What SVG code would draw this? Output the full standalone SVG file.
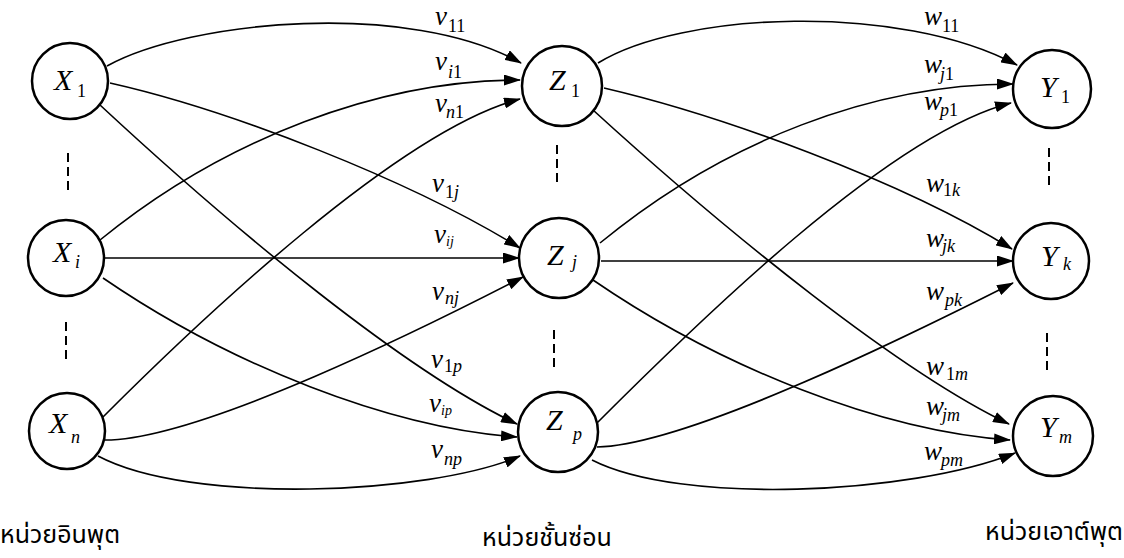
<svg xmlns="http://www.w3.org/2000/svg" width="1124" height="558" viewBox="0 0 1124 558">
<style>
.node{fill:#fff;stroke:#000;stroke-width:2.5}
.edge{fill:none;stroke:#000;stroke-width:1.6;marker-end:url(#arr)}
.dash{stroke:#000;stroke-width:2;stroke-dasharray:9,5}
.lbl{font-family:"Liberation Serif","Times New Roman",serif;font-style:italic;fill:#000}
.nl{font-size:30px}
.wl{font-size:27px}
.sub{font-size:18px}
.ss{font-size:14px}
.up{font-style:normal}
.th{font-family:"Noto Sans Thai","Noto Sans","DejaVu Sans",sans-serif;font-size:25px;fill:#000}
</style>
<defs>
<marker id="arr" markerUnits="userSpaceOnUse" markerWidth="17" markerHeight="11" viewBox="0 0 17 11" refX="16" refY="5.5" orient="auto">
<path d="M0,0 L17,5.5 L0,11 z" fill="#000"/>
</marker>
</defs>
<g id="connectors">
<path class="edge" d="M107,66 C190,20 410,0 521,63"/>
<path class="edge" d="M110,83 C230,110 410,180 520,248"/>
<path class="edge" d="M100,105 C240,235 407,372 517,424"/>
<path class="edge" d="M100,240 C225,138 380,80 520,80"/>
<path class="edge" d="M104,258 L519,258"/>
<path class="edge" d="M103,278 C230,365 390,428 517,437"/>
<path class="edge" d="M103,417 C200,320 400,130 520,99"/>
<path class="edge" d="M105,440 C200,440 430,325 523,277"/>
<path class="edge" d="M98,456 C190,505 430,495 520,456"/>
<path class="edge" d="M598,63 C680,12 900,2 1017,65"/>
<path class="edge" d="M604,88 C720,115 900,180 1012,249"/>
<path class="edge" d="M593,110 C730,235 900,372 1009,424"/>
<path class="edge" d="M600,243 C725,140 875,84 1013,84"/>
<path class="edge" d="M601,261 L1013,261"/>
<path class="edge" d="M593,280 C720,367 880,431 1010,440"/>
<path class="edge" d="M597,423 C695,325 890,133 1011,103"/>
<path class="edge" d="M597,447 C690,445 920,330 1013,283"/>
<path class="edge" d="M592,460 C680,505 910,495 1015,453"/>
</g>
<g id="dashes">
<line class="dash" x1="68" y1="153" x2="68" y2="192"/>
<line class="dash" x1="66" y1="322" x2="66" y2="360"/>
<line class="dash" x1="557" y1="145" x2="557" y2="185"/>
<line class="dash" x1="554" y1="330" x2="554" y2="368"/>
<line class="dash" x1="1049" y1="148" x2="1049" y2="186"/>
<line class="dash" x1="1047" y1="333" x2="1047" y2="372"/>
</g>
<g id="X1"><circle class="node" cx="70" cy="81" r="38"/><text class="lbl nl" x="54" y="90">X</text><text class="lbl sub up" x="77" y="97">1</text></g>
<g id="Xi"><circle class="node" cx="66" cy="258" r="38"/><text class="lbl nl" x="53" y="262">X</text><text class="lbl sub" x="75" y="268">i</text></g>
<g id="Xn"><circle class="node" cx="67" cy="431" r="38"/><text class="lbl nl" x="49" y="433">X</text><text class="lbl sub" x="71" y="443">n</text></g>
<g id="Z1"><circle class="node" cx="562" cy="86" r="40"/><text class="lbl nl" x="549" y="90">Z</text><text class="lbl sub up" x="571" y="97">1</text></g>
<g id="Zj"><circle class="node" cx="559" cy="258" r="40"/><text class="lbl nl" x="547" y="265">Z</text><text class="lbl sub" x="572" y="268">j</text></g>
<g id="Zp"><circle class="node" cx="558" cy="432" r="40"/><text class="lbl nl" x="546" y="430">Z</text><text class="lbl sub" x="573" y="440">p</text></g>
<g id="Y1"><circle class="node" cx="1052" cy="89" r="39"/><text class="lbl nl" x="1040" y="97">Y</text><text class="lbl sub up" x="1061" y="103">1</text></g>
<g id="Yk"><circle class="node" cx="1051" cy="261" r="38"/><text class="lbl nl" x="1041" y="266">Y</text><text class="lbl sub" x="1063" y="270">k</text></g>
<g id="Ym"><circle class="node" cx="1053" cy="436" r="40"/><text class="lbl nl" x="1040" y="437">Y</text><text class="lbl sub" x="1059" y="443">m</text></g>
<g id="weights" class="lbl">
<text class="wl" x="435" y="25">v</text><text class="sub up" x="448" y="32">11</text>
<text class="wl" x="435" y="70">v</text><text class="sub" x="448" y="78">i<tspan class="up">1</tspan></text>
<text class="wl" x="435" y="112">v</text><text class="sub" x="446" y="118">n<tspan class="up">1</tspan></text>
<text class="wl" x="432" y="192">v</text><text class="sub" x="445" y="198"><tspan class="up">1</tspan>j</text>
<text class="wl" x="434" y="243">v</text><text class="ss" x="446" y="246">ij</text>
<text class="wl" x="432" y="300">v</text><text class="sub" x="445" y="304">nj</text>
<text class="wl" x="431" y="368">v</text><text class="sub" x="444" y="372"><tspan class="up">1</tspan>p</text>
<text class="wl" x="429" y="412">v</text><text class="ss" x="441" y="415">ip</text>
<text class="wl" x="431" y="458">v</text><text class="sub" x="444" y="465">np</text>
<text class="wl" x="924" y="25">w</text><text class="sub up" x="942" y="32">11</text>
<text class="wl" x="924" y="73">w</text><text class="sub" x="940" y="80">j<tspan class="up">1</tspan></text>
<text class="wl" x="924" y="110">w</text><text class="sub" x="940" y="116">p<tspan class="up">1</tspan></text>
<text class="wl" x="926" y="192">w</text><text class="sub" x="943" y="196"><tspan class="up">1</tspan>k</text>
<text class="wl" x="926" y="247">w</text><text class="sub" x="942" y="252">jk</text>
<text class="wl" x="926" y="300">w</text><text class="sub" x="945" y="306">pk</text>
<text class="wl" x="926" y="375">w</text><text class="sub" x="946" y="380"><tspan class="up">1</tspan>m</text>
<text class="wl" x="926" y="415">w</text><text class="sub" x="942" y="421">jm</text>
<text class="wl" x="924" y="460">w</text><text class="sub" x="941" y="466">pm</text>
</g>
<g id="layer-labels">
<text class="th" x="0" y="543">หน่วยอินพุต</text>
<text class="th" x="547" y="546" text-anchor="middle">หน่วยชั้นซ่อน</text>
<text class="th" x="1123" y="540" text-anchor="end">หน่วยเอาต์พุต</text>
</g>
</svg>
